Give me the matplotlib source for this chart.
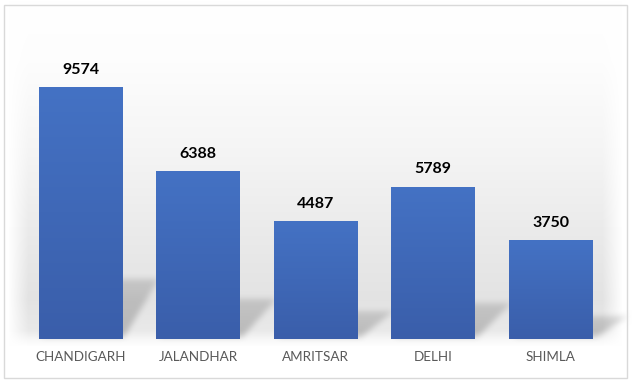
import numpy as np
import matplotlib
matplotlib.use("Agg")
import matplotlib.pyplot as plt
from matplotlib.patches import Rectangle

categories = ["CHANDIGARH", "JALANDHAR", "AMRITSAR", "DELHI", "SHIMLA"]
values = [9574, 6388, 4487, 5789, 3750]

W, H = 632, 383
fig = plt.figure(figsize=(W / 100, H / 100), dpi=100)
fig.patch.set_facecolor("white")

ax = fig.add_axes([21.75 / W, 44 / H, 587.5 / W, 316 / H])
ax.set_xlim(-0.5, len(categories) - 0.5)
ax.set_ylim(0, 12000)
ax.axis("off")
ax.patch.set_alpha(0)

bar_w = 0.71
xs = np.arange(len(categories))

# --- background (vertical gray gradient) + bar shadows in pixel space ---
yy = np.arange(H)[:, None].astype(float)
xx = np.arange(W)[None, :].astype(float)
prof_y = np.array([0, 60, 150, 230, 300, 330, 340, 346, H])
prof_v = np.array([1.0, 0.993, 0.96, 0.92, 0.89, 0.915, 0.975, 1.0, 1.0])
vert = np.interp(yy[:, 0], prof_y, prof_v)[:, None]
hor = np.clip(np.minimum((xx - 8) / 20.0, (622 - xx) / 20.0), 0, 1)
bg = 1 - (1 - vert) * hor

shade = np.zeros((H, W))
fig.canvas.draw()
for x, v in zip(xs, values):
    (pxl, py0) = ax.transData.transform((x - bar_w / 2, 0))
    (pxr, pyt) = ax.transData.transform((x + bar_w / 2, v))
    py0 = H - py0
    pyt = H - pyt
    h = py0 - pyt
    hs = 0.24 * h
    dx = 36.0
    t = np.clip((py0 - yy) / hs, 0, 1)
    inside_y = (yy <= py0 - 3) & (yy >= py0 - hs)
    left = pxl + dx * t
    right = pxr + dx * t
    inside = inside_y & (xx >= left) & (xx <= right)
    strength = inside * (0.6 + 0.4 * np.clip(1 - t, 0, 1))
    shade = np.maximum(shade, strength)

def blur(a, r):
    k = np.ones(2 * r + 1) / (2 * r + 1)
    a = np.apply_along_axis(lambda m: np.convolve(m, k, mode="same"), 0, a)
    a = np.apply_along_axis(lambda m: np.convolve(m, k, mode="same"), 1, a)
    return a

shade = blur(blur(shade, 3), 3)
img = bg - 0.2 * shade
img = np.clip(img, 0, 1)
bgax = fig.add_axes([0, 0, 1, 1], zorder=-1)
bgax.imshow(np.dstack([img, img, img]), extent=(0, W, H, 0), aspect="auto",
            interpolation="bilinear")
bgax.set_xlim(0, W)
bgax.set_ylim(H, 0)
bgax.axis("off")

# --- gradient bars ---
top_c = np.array([68, 114, 196]) / 255
bot_c = np.array([58, 94, 170]) / 255
grad = np.linspace(0, 1, 256)[:, None]
gimg = top_c[None, None, :] * (1 - grad[..., None]) + bot_c[None, None, :] * grad[..., None]
gimg = np.repeat(gimg, 2, axis=1)

bars = ax.bar(xs, values, width=bar_w, color=top_c, zorder=2)
for b, v in zip(bars, values):
    x0 = b.get_x()
    im = ax.imshow(gimg, extent=(x0, x0 + b.get_width(), 0, v), aspect="auto",
                   zorder=3, interpolation="bilinear")
    im.set_clip_path(b)
    ax.text(b.get_x() + b.get_width() / 2, v + 650, f"{v}", ha="center",
            va="center", fontsize=11.5, fontweight="bold", color="black",
            family="Lato", zorder=4)
ax.set_xlim(-0.5, len(categories) - 0.5)
ax.set_ylim(0, 12000)

for x, c in zip(xs, categories):
    ax.text(x, -680, c, ha="center", va="center", fontsize=9.7,
            color="#595959", family="Lato", clip_on=False)

# outer border
fig.patches.append(Rectangle((4 / W, 5 / H), 623 / W, 373 / H,
                             transform=fig.transFigure, fill=False,
                             edgecolor="#d9d9d9", linewidth=1, zorder=10))

fig.savefig("out.png", dpi=100, facecolor="white")
